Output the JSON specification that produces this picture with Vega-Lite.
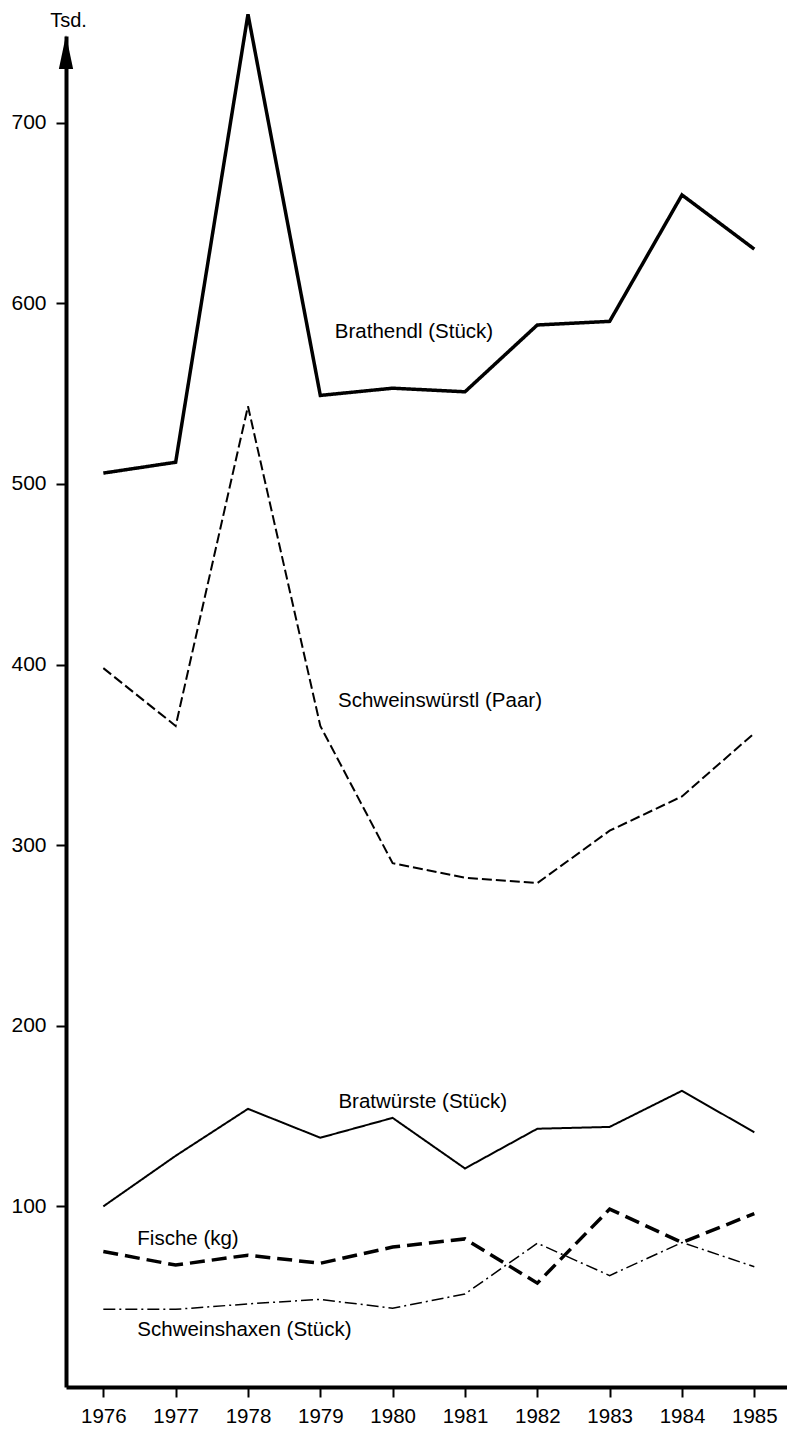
{
  "$schema": "https://vega.github.io/schema/vega-lite/v6.json",
  "width": 721,
  "height": 1351,
  "autosize": {"type": "none"},
  "padding": {"left": 66, "top": 36, "right": 0, "bottom": 44},
  "background": "white",
  "config": {
    "view": {"stroke": null},
    "font": "Liberation Sans",
    "axis": {"grid": false}
  },
  "datasets": {
    "series": [
      {"series": "Brathendl", "year": 1976, "value": 506},
      {"series": "Brathendl", "year": 1977, "value": 512},
      {"series": "Brathendl", "year": 1978, "value": 760},
      {"series": "Brathendl", "year": 1979, "value": 549},
      {"series": "Brathendl", "year": 1980, "value": 553},
      {"series": "Brathendl", "year": 1981, "value": 551},
      {"series": "Brathendl", "year": 1982, "value": 588},
      {"series": "Brathendl", "year": 1983, "value": 590},
      {"series": "Brathendl", "year": 1984, "value": 660},
      {"series": "Brathendl", "year": 1985, "value": 630},
      {"series": "Schweinswürstl", "year": 1976, "value": 398},
      {"series": "Schweinswürstl", "year": 1977, "value": 366},
      {"series": "Schweinswürstl", "year": 1978, "value": 543},
      {"series": "Schweinswürstl", "year": 1979, "value": 366},
      {"series": "Schweinswürstl", "year": 1980, "value": 290},
      {"series": "Schweinswürstl", "year": 1981, "value": 282},
      {"series": "Schweinswürstl", "year": 1982, "value": 279},
      {"series": "Schweinswürstl", "year": 1983, "value": 308},
      {"series": "Schweinswürstl", "year": 1984, "value": 327},
      {"series": "Schweinswürstl", "year": 1985, "value": 362},
      {"series": "Bratwürste", "year": 1976, "value": 100},
      {"series": "Bratwürste", "year": 1977, "value": 128},
      {"series": "Bratwürste", "year": 1978, "value": 154},
      {"series": "Bratwürste", "year": 1979, "value": 138},
      {"series": "Bratwürste", "year": 1980, "value": 149},
      {"series": "Bratwürste", "year": 1981, "value": 121},
      {"series": "Bratwürste", "year": 1982, "value": 143},
      {"series": "Bratwürste", "year": 1983, "value": 144},
      {"series": "Bratwürste", "year": 1984, "value": 164},
      {"series": "Bratwürste", "year": 1985, "value": 141},
      {"series": "Fische", "year": 1976, "value": 75},
      {"series": "Fische", "year": 1977, "value": 67.5},
      {"series": "Fische", "year": 1978, "value": 73},
      {"series": "Fische", "year": 1979, "value": 68.5},
      {"series": "Fische", "year": 1980, "value": 77.5},
      {"series": "Fische", "year": 1981, "value": 82},
      {"series": "Fische", "year": 1982, "value": 57.5},
      {"series": "Fische", "year": 1983, "value": 98.5},
      {"series": "Fische", "year": 1984, "value": 80},
      {"series": "Fische", "year": 1985, "value": 96},
      {"series": "Schweinshaxen", "year": 1976, "value": 43},
      {"series": "Schweinshaxen", "year": 1977, "value": 43},
      {"series": "Schweinshaxen", "year": 1978, "value": 46},
      {"series": "Schweinshaxen", "year": 1979, "value": 48.5},
      {"series": "Schweinshaxen", "year": 1980, "value": 43.6},
      {"series": "Schweinshaxen", "year": 1981, "value": 51.5},
      {"series": "Schweinshaxen", "year": 1982, "value": 79.6},
      {"series": "Schweinshaxen", "year": 1983, "value": 61.7},
      {"series": "Schweinshaxen", "year": 1984, "value": 80},
      {"series": "Schweinshaxen", "year": 1985, "value": 66.6}
    ],
    "labels": [
      {"label": "Brathendl (Stück)", "year": 1979.2, "value": 584},
      {"label": "Schweinswürstl (Paar)", "year": 1979.245, "value": 380},
      {"label": "Bratwürste (Stück)", "year": 1979.25, "value": 158},
      {"label": "Fische (kg)", "year": 1976.47, "value": 82},
      {"label": "Schweinshaxen (Stück)", "year": 1976.47, "value": 31.6}
    ],
    "arrow": [
      {"year": 1975.484, "value": 739.1}
    ]
  },
  "layer": [
    {
      "data": {"name": "series"},
      "mark": {"type": "line", "color": "black", "strokeJoin": "miter", "strokeCap": "butt"},
      "encoding": {
        "x": {
          "field": "year", "type": "quantitative",
          "scale": {"domain": [1975.484, 1985.452], "nice": false, "zero": false},
          "axis": {
            "values": [1976, 1977, 1978, 1979, 1980, 1981, 1982, 1983, 1984, 1985],
            "format": "d",
            "title": null,
            "domain": true, "domainColor": "black", "domainWidth": 4,
            "ticks": true, "tickColor": "black", "tickSize": 10, "tickWidth": 2,
            "labelColor": "black", "labelFontSize": 20.5, "labelPadding": 9,
            "labelFlush": false, "labelOverlap": false
          }
        },
        "y": {
          "field": "value", "type": "quantitative",
          "scale": {"domain": [0, 748], "nice": false},
          "axis": {
            "values": [100, 200, 300, 400, 500, 600, 700],
            "title": "Tsd.",
            "titleAngle": 0, "titleX": 2, "titleY": -16,
            "titleAlign": "center", "titleBaseline": "middle",
            "titleFontSize": 20, "titleFontWeight": "normal", "titleColor": "black",
            "domain": true, "domainColor": "black", "domainWidth": 4,
            "ticks": true, "tickColor": "black", "tickSize": 10, "tickWidth": 2,
            "labelColor": "black", "labelFontSize": 21, "labelPadding": 10
          }
        },
        "detail": {"field": "series", "type": "nominal"},
        "strokeDash": {
          "field": "series", "type": "nominal", "legend": null,
          "scale": {
            "domain": ["Brathendl", "Schweinswürstl", "Bratwürste", "Fische", "Schweinshaxen"],
            "range": [[1, 0], [10, 4], [1, 0], [15, 7], [12, 4, 2, 4]]
          }
        },
        "strokeWidth": {
          "field": "series", "type": "nominal", "legend": null,
          "scale": {
            "type": "ordinal",
            "domain": ["Brathendl", "Schweinswürstl", "Bratwürste", "Fische", "Schweinshaxen"],
            "range": [3.5, 2, 2, 3.5, 1.5]
          }
        }
      }
    },
    {
      "data": {"name": "labels"},
      "mark": {"type": "text", "align": "left", "baseline": "middle", "fontSize": 20.5, "font": "Liberation Sans", "color": "black"},
      "encoding": {
        "x": {"field": "year", "type": "quantitative"},
        "y": {"field": "value", "type": "quantitative"},
        "text": {"field": "label"}
      }
    },
    {
      "data": {"name": "arrow"},
      "mark": {"type": "point", "shape": "M0,-1L0.42,1L-0.42,1Z", "size": 1156, "filled": true, "color": "black", "opacity": 1, "strokeWidth": 0},
      "encoding": {
        "x": {"field": "year", "type": "quantitative"},
        "y": {"field": "value", "type": "quantitative"}
      }
    }
  ]
}
